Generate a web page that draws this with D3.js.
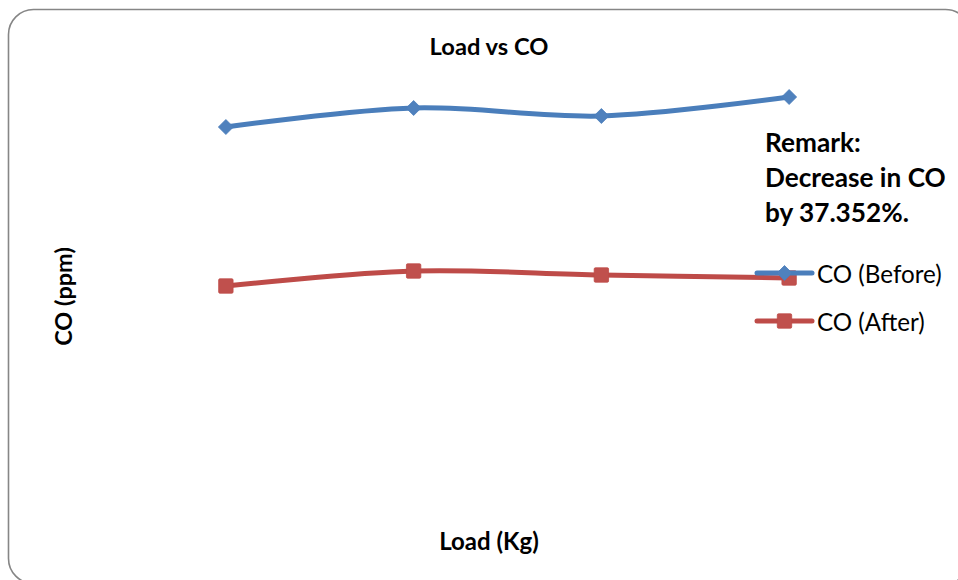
<!DOCTYPE html>
<html>
<head>
<meta charset="utf-8">
<script src="https://cdn.jsdelivr.net/npm/d3@7"></script>
<style>
  html, body { margin: 0; padding: 0; background: #fff; }
  svg { display: block; }
  text { font-family: Lato, "Noto Sans", sans-serif; fill: #000; }
</style>
</head>
<body>
<svg id="chart" width="958" height="580"></svg>
<script>
// ---- data ----
const loads = ["0", "5", "10", "15"];           // Load (Kg) categories (axis labels hidden in reference)
const coBefore = [427, 446, 438, 457];           // CO (ppm) before
const coAfter  = [268, 283, 279, 276];           // CO (ppm) after
const seriesNames = ["CO (Before)", "CO (After)"];
const remarkLines = ["Remark:", "Decrease in CO", "by 37.352%."];

// ---- layout ----
const svg = d3.select("#chart");

// chart frame (rounded border)
svg.append("rect")
  .attr("x", 8.5).attr("y", 9.5)
  .attr("width", 962).attr("height", 574)
  .attr("rx", 25).attr("ry", 25)
  .attr("fill", "#fff")
  .attr("stroke", "#868686").attr("stroke-width", 1.6);

const plot = { left: 132, right: 883, top: 54, bottom: 554 };

const x = d3.scalePoint().domain(loads).range([plot.left, plot.right]).padding(0.5);
const y = d3.scaleLinear().domain([0, 500]).range([plot.bottom, plot.top]);

// title
svg.append("text")
  .attr("x", 489).attr("y", 55)
  .attr("text-anchor", "middle")
  .attr("font-weight", "bold").attr("font-size", 23.7)
  .text("Load vs CO");

// axis titles
svg.append("text")
  .attr("x", 489).attr("y", 549.5)
  .attr("text-anchor", "middle")
  .attr("font-weight", "bold").attr("font-size", 24)
  .text("Load (Kg)");

svg.append("text")
  .attr("transform", "translate(71.5,296.5) rotate(-90)")
  .attr("text-anchor", "middle")
  .attr("font-weight", "bold").attr("font-size", 23.5)
  .text("CO (ppm)");

const series = [
  { name: seriesNames[0], values: coBefore, line: "#4A7EBB", fill: "#4F81BD", marker: "diamond" },
  { name: seriesNames[1], values: coAfter,  line: "#BE4B48", fill: "#C0504D", marker: "square" }
];

const lineGen = d3.line()
  .x((d, i) => x(loads[i]))
  .y(d => y(d))
  .curve(d3.curveCardinal.tension(0));

function drawMarker(g, type, color, stroke) {
  if (type === "diamond") {
    g.append("path").attr("d", "M0,-7.5L7.5,0L0,7.5L-7.5,0Z")
      .attr("fill", color).attr("stroke", stroke).attr("stroke-width", 0.8);
  } else {
    g.append("rect").attr("x", -7.2).attr("y", -7.2).attr("width", 14.4).attr("height", 14.4)
      .attr("rx", 1.2)
      .attr("fill", color).attr("stroke", stroke).attr("stroke-width", 0.8);
  }
}

series.forEach(s => {
  svg.append("path")
    .attr("d", lineGen(s.values))
    .attr("fill", "none")
    .attr("stroke", s.line)
    .attr("stroke-width", 5)
    .attr("stroke-linecap", "round")
    .attr("stroke-linejoin", "round");
  s.values.forEach((v, i) => {
    const g = svg.append("g").attr("transform", `translate(${x(loads[i])},${y(v)})`);
    drawMarker(g, s.marker, s.fill, s.line);
  });
});

// remark text
const remark = svg.append("text")
  .attr("font-weight", "bold").attr("font-size", 26.2);
remarkLines.forEach((t, i) => {
  remark.append("tspan").attr("x", 765).attr("y", 152 + i * 35).text(t);
});

// legend
series.forEach((s, i) => {
  const ly = 273 + i * 48;
  const g = svg.append("g");
  g.append("line")
    .attr("x1", 757).attr("x2", 812).attr("y1", ly).attr("y2", ly)
    .attr("stroke", s.line).attr("stroke-width", 5).attr("stroke-linecap", "round");
  const mg = g.append("g").attr("transform", `translate(784.5,${ly})`);
  drawMarker(mg, s.marker, s.fill, s.line);
  g.append("text")
    .attr("x", 817).attr("y", ly + 10)
    .attr("font-size", 24.2)
    .text(s.name);
});
</script>
</body>
</html>
